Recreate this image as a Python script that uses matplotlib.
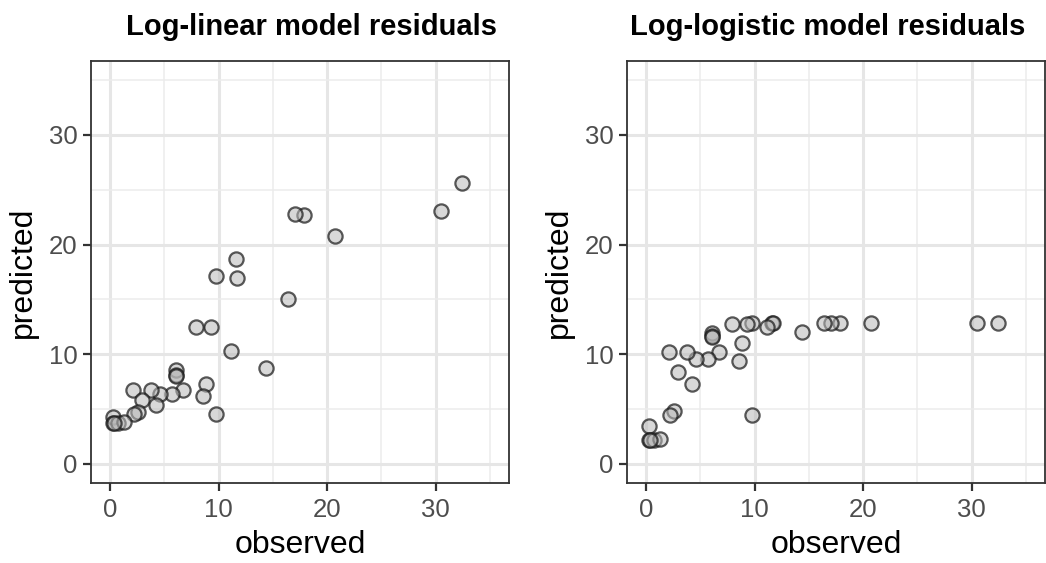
import matplotlib
matplotlib.use("Agg")
import matplotlib.pyplot as plt
import numpy as np

plt.rcParams['font.family'] = ['Liberation Sans', 'DejaVu Sans']

observed = [32.45, 30.5, 20.75, 17.83, 17.0, 16.38, 14.36, 11.62, 11.70, 11.13,
            9.76, 9.32, 7.92, 8.80, 8.54, 6.08, 6.08, 6.10, 6.71, 5.67,
            4.64, 3.75, 2.14, 2.93, 4.23, 2.60, 2.25, 9.78, 0.30, 0.30,
            0.70, 1.28, 0.40]
pred_loglinear = [25.66, 23.03, 20.76, 22.70, 22.82, 15.05, 8.74, 18.65, 16.92, 10.28,
                  17.17, 12.48, 12.48, 7.32, 6.23, 8.52, 8.13, 8.00, 6.71, 6.35,
                  6.35, 6.71, 6.71, 5.80, 5.41, 4.69, 4.53, 4.53, 4.23, 3.75,
                  3.75, 3.84, 3.70]
pred_loglogistic = [12.88, 12.88, 12.88, 12.88, 12.88, 12.85, 12.06, 12.88, 12.85, 12.51,
                    12.85, 12.76, 12.76, 11.00, 9.37, 11.90, 11.70, 11.60, 10.19, 9.52,
                    9.52, 10.19, 10.19, 8.38, 7.32, 4.84, 4.48, 4.41, 3.48, 2.15,
                    2.15, 2.27, 2.15]

titles = ['Log-linear model residuals', 'Log-logistic model residuals']
ticks = [0, 10, 20, 30]
minor_ticks = [5, 15, 25, 35]
lims = (-1.75, 36.75)

W, H = 1046, 563
fig = plt.figure(figsize=(W / 100, H / 100), dpi=100)

# panel boxes in pixels: left, top, right, bottom
boxes = [(91, 61, 509, 483), (627, 61, 1045, 483)]
title_x = [311, 828]

for i, pred in enumerate([pred_loglinear, pred_loglogistic]):
    l, t, r, b = boxes[i]
    ax = fig.add_axes([l / W, 1 - b / H, (r - l) / W, (b - t) / H])
    ax.set_xlim(lims)
    ax.set_ylim(lims)
    ax.set_xticks(ticks)
    ax.set_yticks(ticks)
    ax.set_xticks(minor_ticks, minor=True)
    ax.set_yticks(minor_ticks, minor=True)
    ax.grid(which='major', color='#e6e6e6', linewidth=2.2, zorder=0)
    ax.grid(which='minor', color='#ececec', linewidth=1.1, zorder=0)
    ax.set_axisbelow(True)
    ax.tick_params(which='minor', length=0)
    ax.tick_params(which='major', length=5.5, width=1.6, color='#333333',
                   labelsize=18.5, labelcolor='#4d4d4d', pad=4)
    ax.tick_params(axis='x', pad=5)
    for s in ax.spines.values():
        s.set_color('#333333')
        s.set_linewidth(1.3)

    ax.scatter(observed, pred, s=105, facecolor=(0.72, 0.72, 0.72, 0.55),
               edgecolor=(0.1, 0.1, 0.1, 0.72), linewidth=1.6, zorder=3)

    ax.set_xlabel('observed', fontsize=23, color='black', labelpad=6)
    ax.set_ylabel('predicted', fontsize=23, color='black', labelpad=8)

    fig.text(title_x[i] / W, 1 - 35 / H, titles[i], ha='center', va='baseline',
             fontsize=21, fontweight='bold', color='black')

fig.savefig('out.png', dpi=100)
